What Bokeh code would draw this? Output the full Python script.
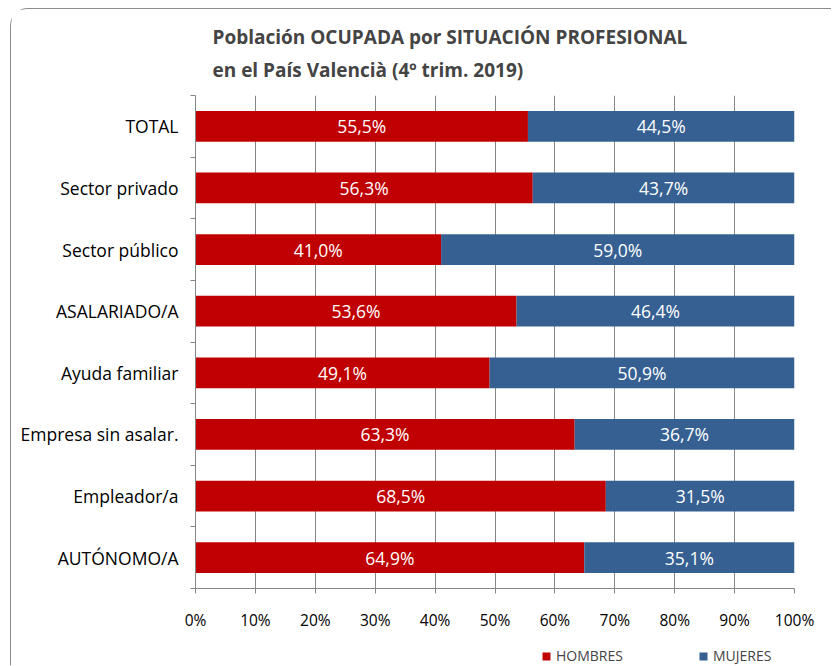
from bokeh.plotting import figure
from bokeh.layouts import column
from bokeh.models import (ColumnDataSource, FixedTicker, PrintfTickFormatter, Legend,
                          LegendItem, LabelSet, Range1d)
from bokeh.core.properties import value
from bokeh.embed import file_html
from bokeh.resources import INLINE

# ---- data ----
categories = ["TOTAL", "Sector privado", "Sector público", "ASALARIADO/A",
              "Ayuda familiar", "Empresa sin asalar.", "Empleador/a", "AUTÓNOMO/A"]
hombres = [55.5, 56.3, 41.0, 53.6, 49.1, 63.3, 68.5, 64.9]
mujeres = [44.5, 43.7, 59.0, 46.4, 50.9, 36.7, 31.5, 35.1]
series = ["HOMBRES", "MUJERES"]
x_ticks = [0, 10, 20, 30, 40, 50, 60, 70, 80, 90, 100]
title_lines = ["Población OCUPADA por SITUACIÓN PROFESIONAL",
               "en el País Valencià (4º trim. 2019)"]

RED = "#C00000"
BLUE = "#366092"
GRID = "#878787"
FONT = "Open Sans"

n = len(categories)
ypos = [n - i - 0.5 for i in range(n)]

def fmt(v):
    return f"{v:.1f}%".replace(".", ",")

src = ColumnDataSource(dict(
    y=ypos,
    HOMBRES=hombres,
    MUJERES=mujeres,
    h_mid=[h / 2 for h in hombres],
    m_mid=[h + m / 2 for h, m in zip(hombres, mujeres)],
    h_lab=[fmt(v) for v in hombres],
    m_lab=[fmt(v) for v in mujeres],
))

p = figure(width=820, height=624, output_backend="svg", toolbar_location=None,
           x_range=Range1d(0, 100), y_range=Range1d(0, n),
           min_border_left=184, min_border_right=37, min_border_top=86,
           min_border_bottom=44)

p.title.text = "\n".join(title_lines)
p.title.text_font = FONT
p.title.text_font_size = "19px"
p.title.text_font_style = "bold"
p.title.align = "left"
p.title.offset = 17
p.title.text_line_height = 1.28
p.title.standoff = 24

p.outline_line_color = None
p.background_fill_color = "white"
p.border_fill_color = "white"

renderers = p.hbar_stack(series, y="y", height=0.5, color=[RED, BLUE],
                         line_color=None, source=src)

for xcol, tcol in (("h_mid", "h_lab"), ("m_mid", "m_lab")):
    p.add_layout(LabelSet(x=xcol, y="y", text=tcol, source=src,
                          text_align="center", text_baseline="middle",
                          text_color="white", text_font=value(FONT),
                          text_font_size="17.5px"))

# grid
p.ygrid.visible = False
p.xgrid.ticker = FixedTicker(ticks=x_ticks)
p.xgrid.grid_line_color = GRID
p.xgrid.grid_line_width = 1

# x axis
p.xaxis.ticker = FixedTicker(ticks=x_ticks)
p.xaxis.formatter = PrintfTickFormatter(format="%d%%")
p.xaxis.axis_line_color = GRID
p.xaxis.major_tick_line_color = GRID
p.xaxis.major_tick_in = 0
p.xaxis.major_tick_out = 5
p.xaxis.minor_tick_line_color = None
p.xaxis.major_label_text_font = FONT
p.xaxis.major_label_text_font_size = "15.5px"
p.xaxis.major_label_text_color = "black"
p.xaxis.major_label_standoff = 15

# y axis
p.yaxis.ticker = FixedTicker(ticks=ypos, minor_ticks=list(range(n + 1)))
p.yaxis.major_label_overrides = {y: c for y, c in zip(ypos, categories)}
p.yaxis.axis_line_color = GRID
p.yaxis.major_tick_line_color = None
p.yaxis.major_tick_in = 0
p.yaxis.major_tick_out = 0
p.yaxis.minor_tick_line_color = GRID
p.yaxis.minor_tick_in = 0
p.yaxis.minor_tick_out = 5
p.yaxis.major_label_text_font = FONT
p.yaxis.major_label_text_font_size = "17.5px"
p.yaxis.major_label_text_color = "black"
p.yaxis.major_label_standoff = 12

# ---- legend strip (separate small figure under the chart) ----
leg = figure(width=820, height=32, output_backend="svg", toolbar_location=None,
             x_range=Range1d(1000, 1001), y_range=Range1d(1000, 1001),
             x_axis_location=None, y_axis_location=None, min_border=0)
leg.outline_line_color = None
leg.grid.visible = False
leg.border_fill_color = "white"
leg_renderers = leg.hbar_stack(series, y="y", height=0.5, color=[RED, BLUE],
                               line_color=None, source=src)
legend = Legend(items=[LegendItem(label=s, renderers=[r]) for s, r in zip(series, leg_renderers)],
                orientation="horizontal", location=(346, 0),
                border_line_color=None, background_fill_alpha=0,
                glyph_width=10, glyph_height=10, label_standoff=5,
                spacing=75, padding=0, margin=0,
                label_text_font=FONT, label_text_font_size="14px")
leg.add_layout(legend)

layout = column(p, leg, spacing=0)
layout.styles = {"margin-left": "10px", "margin-top": "8px",
                 "border-left": "1.5px solid #8c8c8c", "border-top": "1.5px solid #8c8c8c",
                 "border-top-left-radius": "18px"}

open("out.html", "w").write(file_html(layout, INLINE))
